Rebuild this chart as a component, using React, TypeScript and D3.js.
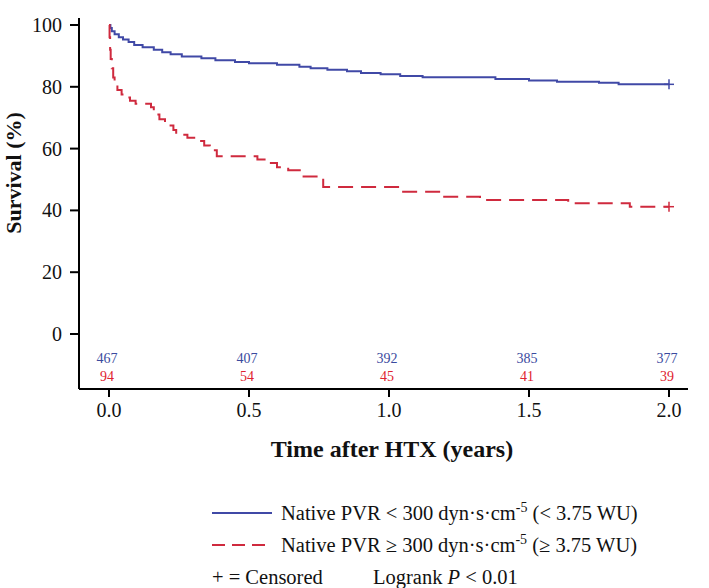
import React from "react";
import * as d3 from "d3";

const lowTimes = [0, 0.005, 0.01, 0.02, 0.035, 0.05, 0.07, 0.09, 0.12, 0.16, 0.19, 0.22, 0.26, 0.33, 0.38, 0.45, 0.5, 0.6, 0.68, 0.72, 0.78, 0.85, 0.9, 0.97, 1.04, 1.12, 1.38, 1.5, 1.6, 1.75, 1.82, 2.0];
const lowSurv = [100, 99, 98, 97, 96, 95.3, 94.5, 93.5, 92.8, 92, 91.2, 90.5, 89.8, 89.2, 88.6, 88.0, 87.6, 87.1, 86.5, 86.0, 85.5, 85.0, 84.5, 84.1, 83.5, 83.1, 82.5, 82.0, 81.6, 81.3, 80.8, 80.8];
const highTimes = [0, 0.002, 0.004, 0.006, 0.01, 0.015, 0.02, 0.03, 0.045, 0.06, 0.075, 0.095, 0.15, 0.16, 0.18, 0.2, 0.23, 0.24, 0.28, 0.32, 0.34, 0.36, 0.385, 0.53, 0.565, 0.6, 0.64, 0.69, 0.765, 1.04, 1.19, 1.325, 1.64, 1.86, 2.0];
const highSurv = [100, 96, 92, 89, 86, 83, 81, 79, 77.5, 76.5, 75.5, 74.5, 73.4, 71, 69.5, 67.5, 66, 64.5, 63.5, 62.5, 61, 59.5, 57.5, 56.5, 55.3, 54.0, 53.0, 51.0, 47.6, 46.0, 44.4, 43.4, 42.3, 41.2, 41.2];

const xTicks = [0, 0.5, 1.0, 1.5, 2.0];
const yTicks = [0, 20, 40, 60, 80, 100];
const riskLow = [467, 407, 392, 385, 377];
const riskHigh = [94, 54, 45, 41, 39];

const BLUE = "#4049a6";
const RED = "#cf2a3e";
const BLUE_TXT = "#3a4a9e";
const RED_TXT = "#e0222e";
const FONT = "'Liberation Serif', 'Times New Roman', serif";

export default function App() {
  React.useEffect(() => {
    document.body.style.margin = "0";
  }, []);
  const x = d3.scaleLinear().domain([0, 2]).range([109, 669]);
  const y = d3.scaleLinear().domain([0, 100]).range([334, 25]);
  const line = d3
    .line<[number, number]>()
    .x((d) => x(d[0]))
    .y((d) => y(d[1]))
    .curve(d3.curveStepAfter);
  const lowPts: [number, number][] = lowTimes.map((t, i) => [t, lowSurv[i]]);
  const highPts: [number, number][] = highTimes.map((t, i) => [t, highSurv[i]]);
  const axisX0 = 79;
  const axisY = 389;

  const censor = (t: number, v: number, c: string) => (
    <g stroke={c} strokeWidth={1.5}>
      <line x1={x(t) - 5} x2={x(t) + 5} y1={y(v)} y2={y(v)} />
      <line x1={x(t)} x2={x(t)} y1={y(v) - 5} y2={y(v) + 5} />
    </g>
  );

  return (
    <svg width={709} height={588} style={{ display: "block", background: "#fff" }} fontFamily={FONT}>
      {/* axes */}
      <line x1={axisX0} x2={axisX0} y1={18} y2={axisY} stroke="#000" strokeWidth={2} />
      <line x1={axisX0} x2={688} y1={axisY} y2={axisY} stroke="#000" strokeWidth={2} />
      {yTicks.map((t) => (
        <g key={t}>
          <line x1={axisX0 - 9} x2={axisX0} y1={y(t)} y2={y(t)} stroke="#000" strokeWidth={2} />
          <text x={62} y={y(t)} dy="0.35em" textAnchor="end" fontSize={20} fill="#111">
            {t}
          </text>
        </g>
      ))}
      {xTicks.map((t) => (
        <g key={t}>
          <line x1={x(t)} x2={x(t)} y1={axisY} y2={axisY + 8} stroke="#000" strokeWidth={2} />
          <text x={x(t)} y={417} textAnchor="middle" fontSize={20} fill="#111">
            {t.toFixed(1)}
          </text>
        </g>
      ))}
      <text
        transform={`translate(21,173) rotate(-90)`}
        textAnchor="middle"
        fontSize={22}
        fontWeight="bold"
        fill="#111"
      >
        Survival (%)
      </text>
      <text x={392} y={457} textAnchor="middle" fontSize={24} fontWeight="bold" fill="#111">
        Time after HTX (years)
      </text>

      {/* curves */}
      <path d={line(lowPts) || ""} fill="none" stroke={BLUE} strokeWidth={2} />
      <path d={line(highPts) || ""} fill="none" stroke={RED} strokeWidth={2} strokeDasharray="15,8" />
      {censor(2, lowSurv[lowSurv.length - 1], BLUE)}
      {censor(2, highSurv[highSurv.length - 1], RED)}

      {/* number at risk */}
      {xTicks.map((t, i) => (
        <g key={"r" + t}>
          <text x={x(t) - 2} y={358} dy="0.35em" textAnchor="middle" fontSize={14} fill={BLUE_TXT}>
            {riskLow[i]}
          </text>
          <text x={x(t) - 2} y={376} dy="0.35em" textAnchor="middle" fontSize={14} fill={RED_TXT}>
            {riskHigh[i]}
          </text>
        </g>
      ))}

      {/* legend */}
      <line x1={212} x2={272} y1={513} y2={513} stroke={BLUE} strokeWidth={2} />
      <text x={281} y={513} dy="0.35em" fontSize={20.5} fill="#111">
        Native PVR &lt; 300 dyn·s·cm
        <tspan dy="-8" fontSize={14}>-5</tspan>
        <tspan dy="8"> (&lt; 3.75 WU)</tspan>
      </text>
      <line x1={212} x2={272} y1={545} y2={545} stroke={RED} strokeWidth={2} strokeDasharray="13,7" />
      <text x={281} y={545} dy="0.35em" fontSize={20.5} fill="#111">
        Native PVR ≥ 300 dyn·s·cm
        <tspan dy="-8" fontSize={14}>-5</tspan>
        <tspan dy="8"> (≥ 3.75 WU)</tspan>
      </text>
      <text x={212} y={577} dy="0.35em" fontSize={20.5} fill="#111">
        + = Censored
      </text>
      <text x={373} y={577} dy="0.35em" fontSize={20.5} fill="#111">
        Logrank <tspan fontStyle="italic">P</tspan> &lt; 0.01
      </text>
    </svg>
  );
}
